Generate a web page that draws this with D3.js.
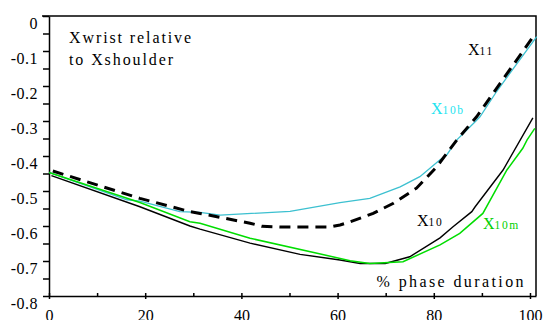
<!DOCTYPE html>
<html>
<head>
<meta charset="utf-8">
<script src="https://cdn.jsdelivr.net/npm/d3@7"></script>
<style>
  body { margin: 0; background: #fff; }
  text { font-family: "Liberation Serif", "Times New Roman", serif; }
</style>
</head>
<body>
<div id="chart"></div>
<script>
// values (x = % phase duration, y = Xwrist - Xshoulder)
const x10 = [
  [0.5, -0.456], [18.9, -0.545], [29.3, -0.600], [31.4, -0.609], [41.8, -0.649],
  [52.2, -0.681], [60.5, -0.697], [64.7, -0.707], [69.9, -0.707], [75, -0.688],
  [81.3, -0.634], [84, -0.602], [87.9, -0.559], [88.6, -0.545], [94.4, -0.44],
  [100.6, -0.291]
];
const x10m = [
  [0, -0.447], [18.9, -0.533], [29.3, -0.588], [31.4, -0.592], [41.8, -0.635],
  [62.6, -0.699], [66.7, -0.707], [73.6, -0.702], [81.3, -0.654], [85.4, -0.621],
  [90.2, -0.564], [95.2, -0.44], [98.5, -0.378], [99.4, -0.354], [101, -0.321]
];
const x10b = [
  [0, -0.447], [16.2, -0.525], [18.9, -0.529], [27.2, -0.559], [31.4, -0.561],
  [35.6, -0.569], [50.1, -0.558], [60.5, -0.533], [66.7, -0.521], [73, -0.488],
  [77.1, -0.459], [81.3, -0.411], [82.7, -0.397], [84.8, -0.354], [88.6, -0.302],
  [89.6, -0.288], [93.1, -0.215], [101.4, -0.059]
];
const x11 = [
  [0.8, -0.443], [18.9, -0.521], [29.3, -0.559], [31.4, -0.564], [41.8, -0.592],
  [44.3, -0.601], [48, -0.603], [58.4, -0.603], [60.5, -0.597], [62.6, -0.588],
  [67.4, -0.564], [71.6, -0.535], [76.4, -0.492], [80.6, -0.431], [84.8, -0.354],
  [88.9, -0.288], [100.4, -0.064]
];
const xTicks = d3.range(0, 101, 10);
const yTicks = d3.range(-16, 1).map(d => d * 0.05);

const width = 550, height = 320;
const plotLeft = 49, plotRight = 536, plotTop = 16, plotBottom = 296;

const svg = d3.select("#chart").append("svg")
  .attr("width", width)
  .attr("height", height);

const x = d3.scaleLinear().domain([0, 101.25]).range([plotLeft, plotRight]);
const y = d3.scaleLinear().domain([-0.8, 0]).range([plotBottom, plotTop]);

// y axis
const yAxis = d3.axisLeft(y)
  .tickValues(yTicks)
  .tickSize(6)
  .tickSizeOuter(0)
  .tickPadding(5)
  .tickFormat(d => {
    const r = Math.round(d * 20);
    if (r % 2 !== 0) return "";
    return r === 0 ? "0" : (d).toFixed(1);
  });

const gy = svg.append("g")
  .attr("transform", `translate(${plotLeft},0)`)
  .call(yAxis);
gy.selectAll(".tick text")
  .attr("font-size", 16)
  .attr("letter-spacing", 0.5)
  .attr("dy", "0.75em");

// x axis
const xAxis = d3.axisBottom(x)
  .tickValues(xTicks)
  .tickSizeOuter(0)
  .tickPadding(7)
  .tickFormat(d => d % 20 === 0 ? d : "");

const gx = svg.append("g")
  .attr("transform", `translate(0,${plotBottom})`)
  .call(xAxis);
gx.selectAll(".tick line")
  .attr("y1", -3)
  .attr("y2", d => d % 20 === 0 ? 3 : 0);
gx.selectAll(".tick text")
  .attr("font-size", 16)
  .attr("dy", "0.72em");

svg.selectAll(".domain, .tick line")
  .attr("stroke", "#000")
  .attr("stroke-width", 1.5);
svg.selectAll(".tick text").attr("fill", "#000");

// frame: top and right
svg.append("path")
  .attr("d", `M${plotLeft - 7},${plotTop}H${plotRight}V${plotBottom}`)
  .attr("fill", "none")
  .attr("stroke", "#000")
  .attr("stroke-width", 1.5);

const line = d3.line()
  .x(d => x(d[0]))
  .y(d => y(d[1]));

svg.append("path").datum(x10)
  .attr("d", line).attr("fill", "none")
  .attr("stroke", "#000").attr("stroke-width", 1.4);

svg.append("path").datum(x10b)
  .attr("d", line).attr("fill", "none")
  .attr("stroke", "#3cc0d0").attr("stroke-width", 1.3);

svg.append("path").datum(x10m)
  .attr("d", line).attr("fill", "none")
  .attr("stroke", "#00dd00").attr("stroke-width", 1.5);

svg.append("path").datum(x11)
  .attr("d", line).attr("fill", "none")
  .attr("stroke", "#000").attr("stroke-width", 3)
  .attr("stroke-dasharray", "11,7");

// texts
const note = svg.append("text")
  .attr("x", 69).attr("y", 43)
  .attr("font-size", 16)
  .attr("letter-spacing", 1.9)
  .attr("fill", "#000");
note.append("tspan").text("Xwrist relative");
note.append("tspan").attr("x", 69).attr("dy", 22).text("to Xshoulder");

function seriesLabel(px, py, main, sub, color) {
  const t = svg.append("text")
    .attr("x", px).attr("y", py)
    .attr("fill", color);
  t.append("tspan").attr("font-size", 16).text(main);
  t.append("tspan").attr("font-size", 11.5).attr("letter-spacing", 1.6).text(sub);
}
seriesLabel(468, 55, "X", "11", "#000");
seriesLabel(431, 114, "X", "10b", "#22e4f0");
seriesLabel(417, 226, "X", "10", "#000");
seriesLabel(483, 229, "X", "10m", "#00d000");

svg.append("text")
  .attr("x", 526).attr("y", 287)
  .attr("text-anchor", "end")
  .attr("font-size", 16)
  .attr("letter-spacing", 2.4)
  .attr("fill", "#000")
  .text("% phase duration");
</script>
</body>
</html>
